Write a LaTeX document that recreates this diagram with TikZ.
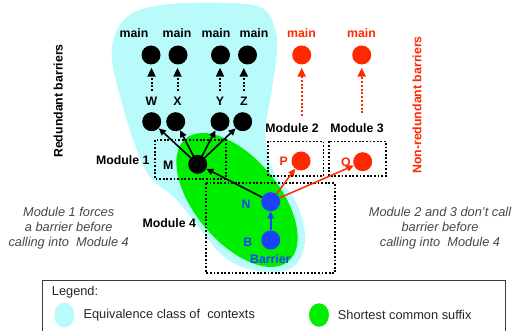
\documentclass[tikz,border=0pt]{standalone}
\usepackage{fontspec}
\setmainfont{Liberation Sans}
\usetikzlibrary{arrows.meta,shapes.geometric}
\definecolor{blobcyan}{RGB}{185,251,251}
\definecolor{sufgreen}{RGB}{0,238,0}
\definecolor{nrred}{RGB}{255,40,0}
\definecolor{barblue}{RGB}{30,64,255}
\definecolor{noteg}{RGB}{70,70,70}
\definecolor{legline}{RGB}{60,60,60}
\begin{document}
\begin{tikzpicture}[x=1pt,y=-1pt,
  vtx/.style={circle,fill=#1,minimum size=19pt,inner sep=0pt},
  vtx/.default=black,
  lbl/.style={font=\fontsize{12.3}{14}\selectfont\bfseries,text=#1,inner sep=1pt},
  lbl/.default=black,
  blkarr/.style={line width=1.6pt,-{Triangle[length=7pt,width=6.5pt]}},
  bluearr/.style={barblue,line width=1.6pt,-{Triangle[length=7pt,width=6.5pt]}},
  redarr/.style={nrred,line width=1.5pt,-{Triangle[length=7pt,width=6.5pt]}},
  dotarr/.style={line width=2pt,dash pattern=on 2pt off 1.8pt,-{Triangle[length=9pt,width=8pt]}},
  modbox/.style={line width=1.8pt,dash pattern=on 1.8pt off 1.8pt},
  note/.style={font=\fontsize{12.8}{15}\selectfont\itshape,text=noteg,align=center,inner sep=0pt},
  legtext/.style={font=\fontsize{12.8}{15}\selectfont,text=black!85,anchor=west,inner sep=0pt}
]
\useasboundingbox (0,0) rectangle (513,331);

% equivalence class blob
\fill[blobcyan] plot[smooth cycle,tension=0.6] coordinates {
 (112,60) (117,30) (135,12) (170,4) (230,3) (262,8) (274,25) (277,50)
 (271,95) (265,135) (274,172) (295,200) (305,235) (298,262) (278,272)
 (245,268) (220,253) (197,225) (175,198) (150,177) (135,145) (124,110)};

% shortest common suffix
\node[ellipse,fill=sufgreen,minimum width=160pt,minimum height=84pt,inner sep=0pt,rotate=-50] (suffix) at (237,200) {};

% module boxes
\draw[modbox] (155,140) rectangle (225.7,179);
\draw[modbox] (206,183.3) rectangle (335,273);
\draw[modbox] (268.3,141.5) rectangle (323.5,176);
\draw[modbox] (329.3,141.5) rectangle (386,176);

% main nodes
\node[vtx] (mw) at (151,55) {};
\node[vtx] (mx) at (178,55) {};
\node[vtx] (my) at (220.5,55) {};
\node[vtx] (mz) at (247.5,55) {};
\node[vtx=nrred] (rm1) at (301.7,55) {};
\node[vtx=nrred] (rm2) at (361.7,55) {};

\node[lbl] at (134,33) {main};
\node[lbl] at (177,33) {main};
\node[lbl] at (216,33) {main};
\node[lbl] at (254,33) {main};
\node[lbl=nrred] at (301.5,33) {main};
\node[lbl=nrred] at (361.5,33) {main};

% W X Y Z
\node[lbl] (lw) at (151.5,101.7) {W};
\node[lbl] (lx) at (177.5,101.7) {X};
\node[lbl] (ly) at (220,101.7) {Y};
\node[lbl] (lz) at (243.8,101.7) {Z};
\node[vtx] (nw) at (151.7,121.7) {};
\node[vtx] (nx) at (175.7,121.7) {};
\node[vtx] (ny) at (220,121.7) {};
\node[vtx] (nz) at (242.7,121.7) {};

\draw[dotarr,shorten <=5pt,shorten >=3pt] (lw.north) -- (lw.north |- mw.south);
\draw[dotarr,shorten <=5pt,shorten >=3pt] (lx.north) -- (lx.north |- mx.south);
\draw[dotarr,shorten <=5pt,shorten >=3pt] (ly.north) -- (ly.north |- my.south);
\draw[dotarr,shorten <=5pt,shorten >=3pt] (lz.north) -- (lz.north |- mz.south);

% M, N, B, P, Q
\node[vtx] (m) at (197.7,164.3) {};
\node[vtx=barblue] (n) at (270.7,201.7) {};
\node[vtx=barblue] (b) at (270.7,240) {};
\node[vtx=nrred] (p) at (301,161) {};
\node[vtx=nrred] (q) at (362.7,161.7) {};

\node[lbl] at (168.3,165) {M};
\node[lbl=barblue] at (246,204.5) {N};
\node[lbl=barblue] at (247.7,242.3) {B};
\node[lbl=barblue] at (270.3,259.3) {Barrier};
\node[lbl=nrred] at (283.7,161.5) {P};
\node[lbl=nrred] at (345.8,163) {Q};

\node[lbl] at (122.7,160) {Module 1};
\node[lbl] at (292,127.7) {Module 2};
\node[lbl] at (357,127.7) {Module 3};
\node[lbl] at (169.3,223.3) {Module 4};

\node[lbl,rotate=90] at (58.3,101) {Redundant barriers};
\node[lbl=nrred,rotate=90] at (417,105) {Non-redundant barriers};

% red dotted arrows
\coordinate (r1s) at (301.7,116);
\coordinate (r2s) at (361.7,113.5);
\draw[dotarr,nrred,shorten >=3pt] (r1s) -- (rm1);
\draw[dotarr,nrred,shorten >=3pt] (r2s) -- (rm2);

% call arrows
\draw[blkarr] (m.center) -- (nw);
\draw[blkarr] (m.center) -- (nx);
\draw[blkarr] (m.center) -- (ny);
\draw[blkarr] (m.center) -- (nz);
\draw[blkarr] (n) -- (m);
\draw[bluearr] (b) -- (n);
\draw[redarr] (n) -- (p);
\draw[redarr] (n) -- (q);

% notes
\node[note] at (68.7,228.5) {Module 1 forces\\a barrier before\\calling into~ Module 4};
\node[note] at (440,228.5) {Module 2 and 3 don't call\\barrier before\\calling into~ Module 4};

% legend
\draw[legline,line width=0.9pt] (42.3,332) -- (42.3,280.7) -- (505.7,280.7) -- (505.7,332);
\node[legtext] at (51.7,291.7) {Legend:};
\node[ellipse,fill=blobcyan,minimum width=20pt,minimum height=25pt,inner sep=0pt] (legc) at (64.3,315) {};
\node[legtext] at (83.3,315) {Equivalence class of~ contexts};
\node[ellipse,fill=sufgreen,minimum width=20pt,minimum height=23.5pt,inner sep=0pt] (legg) at (319,315) {};
\node[legtext] at (337.7,315) {Shortest common suffix};
\end{tikzpicture}
\end{document}
